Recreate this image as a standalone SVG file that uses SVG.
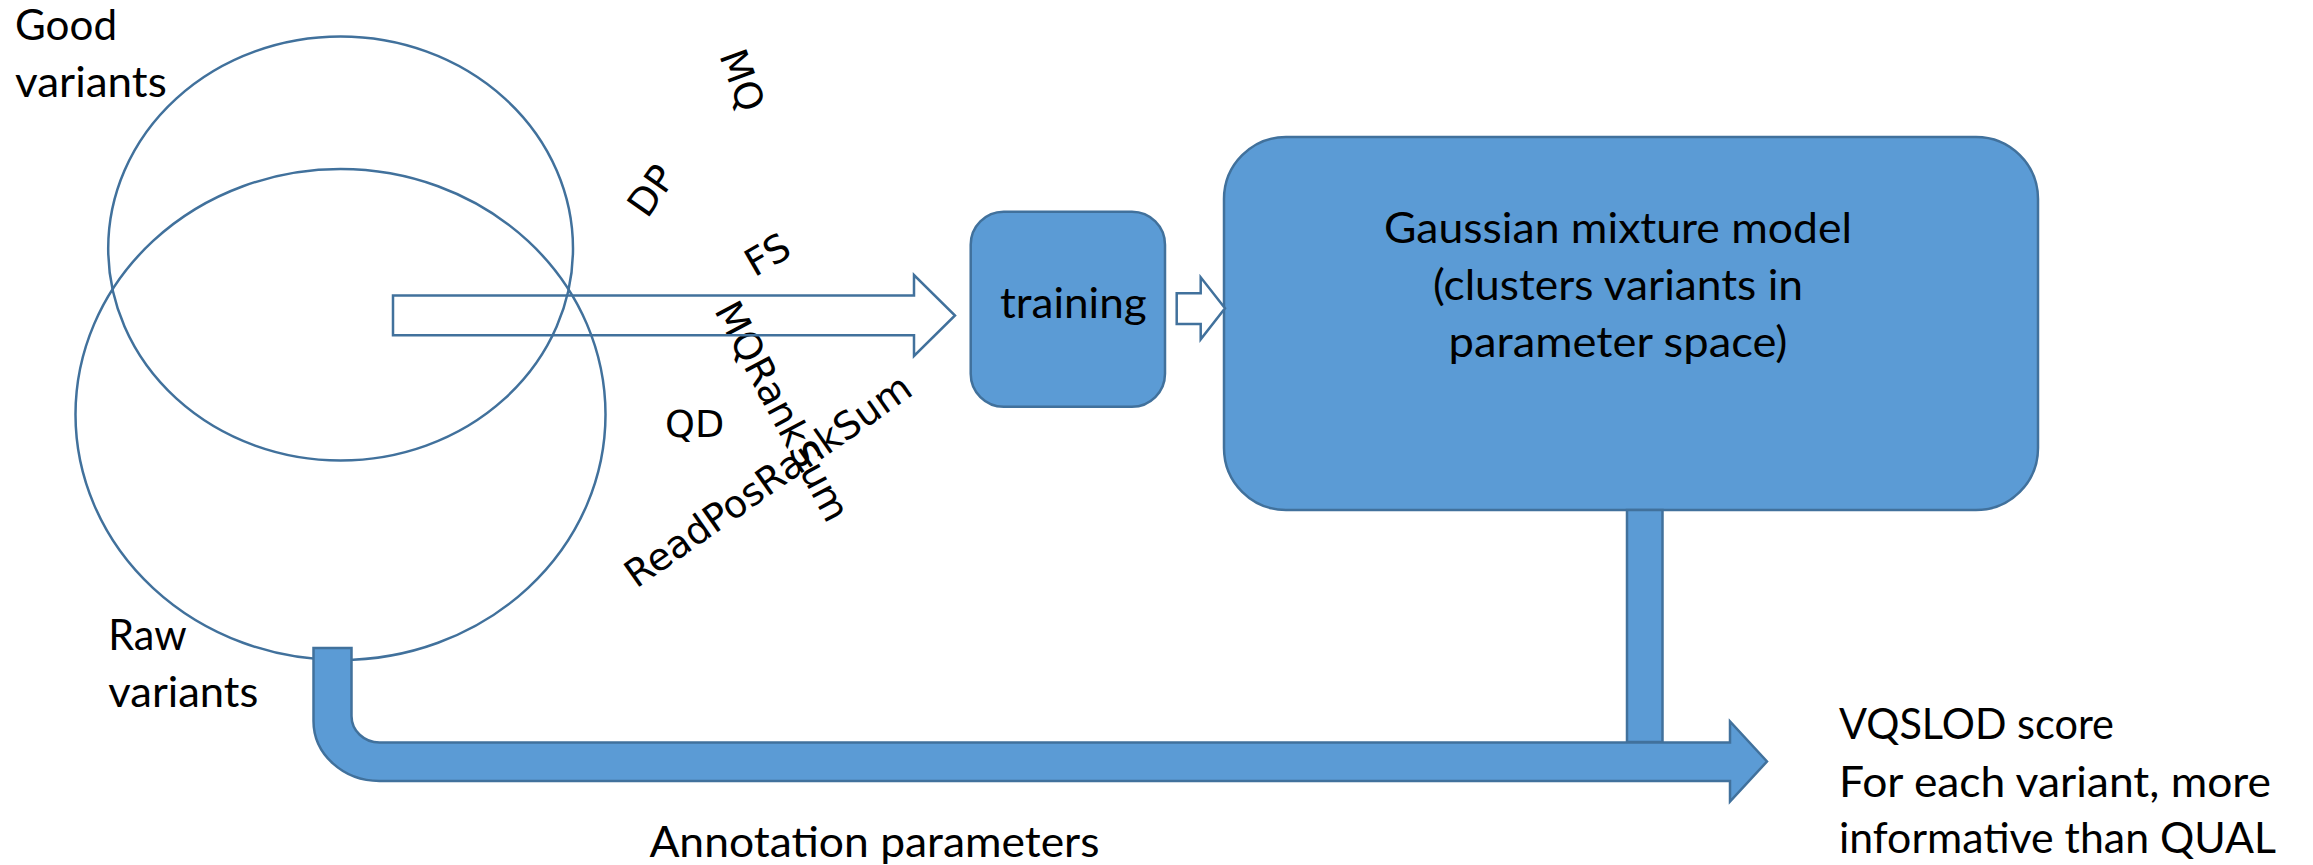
<svg xmlns="http://www.w3.org/2000/svg" width="2313" height="865" viewBox="0 0 2313 865">
<style>
.cal{font-family:Lato,"Liberation Sans",sans-serif;font-size:42px;fill:#000}
.dv{font-family:"DejaVu Sans",Verdana,sans-serif;font-size:38px;fill:#000}
.ol{fill:none;stroke:#41719C;stroke-width:2.5}
.hollow{fill:#fff;stroke:#41719C;stroke-width:2.5}
.solid{fill:#5B9BD5;stroke:#41719C;stroke-width:2.5}
</style>
<rect width="2313" height="865" fill="#fff"/>
<g id="raw-variants">
<ellipse class="ol" cx="340.5" cy="414.5" rx="265" ry="245.5"/>
<text class="cal" x="108.3" y="650" textLength="78.4" lengthAdjust="spacingAndGlyphs">Raw</text>
<text class="cal" x="108.3" y="706.7" textLength="150" lengthAdjust="spacingAndGlyphs">variants</text>
</g>
<g id="good-variants">
<ellipse class="ol" cx="340.6" cy="248.5" rx="232.4" ry="212"/>
<text class="cal" x="15" y="39.5" textLength="102" lengthAdjust="spacingAndGlyphs">Good</text>
<text class="cal" x="15" y="96.7" textLength="151.7" lengthAdjust="spacingAndGlyphs">variants</text>
</g>
<g id="parameters">
<g transform="translate(743,80) rotate(70)"><text class="dv" x="0" y="14" text-anchor="middle">MQ</text></g>
<g transform="translate(650.7,190) rotate(-55)"><text class="dv" x="0" y="14" text-anchor="middle">DP</text></g>
<g transform="translate(767,254) rotate(-30)"><text class="dv" x="0" y="14" text-anchor="middle">FS</text></g>
<g transform="translate(783,411) rotate(62)"><text class="dv" x="0" y="14" text-anchor="middle">MQRankSum</text></g>
<text class="dv" x="665" y="437">QD</text>
<g transform="translate(767.5,480) rotate(-35)"><text class="dv" x="0" y="14" text-anchor="middle">ReadPosRankSum</text></g>
</g>
<g id="training">
<rect class="solid" x="970.7" y="211.7" width="194.3" height="195" rx="33" ry="33"/>
<text class="cal" x="1000" y="318.3" textLength="146.7" lengthAdjust="spacingAndGlyphs">training</text>
</g>
<g id="gmm">
<rect class="solid" x="1224" y="137" width="814" height="373" rx="62" ry="62"/>
<text class="cal" x="1618" y="243.3" text-anchor="middle" textLength="468" lengthAdjust="spacingAndGlyphs">Gaussian mixture model</text>
<text class="cal" x="1618" y="300" text-anchor="middle" textLength="370" lengthAdjust="spacingAndGlyphs">(clusters variants in</text>
<text class="cal" x="1618" y="357" text-anchor="middle" textLength="339" lengthAdjust="spacingAndGlyphs">parameter space)</text>
</g>
<g id="output">
<text class="cal" x="1839" y="739" textLength="275" lengthAdjust="spacingAndGlyphs">VQSLOD score</text>
<text class="cal" x="1839" y="797" textLength="432" lengthAdjust="spacingAndGlyphs">For each variant, more</text>
<text class="cal" x="1839" y="853" textLength="437" lengthAdjust="spacingAndGlyphs">informative than QUAL</text>
</g>
<g id="connectors">
<polygon class="ol" points="393,295.5 914,295.5 914,275 955,315.5 914,356 914,335.3 393,335.3"/>
<polygon class="hollow" points="1176.7,293.3 1200.7,293.3 1200.7,277.3 1225,308.3 1200.7,339.3 1200.7,324 1176.7,324"/>
<rect class="solid" x="1627" y="510" width="35.5" height="232"/>
<path class="solid" d="M313.5 648 L351.5 648 L351.5 716 A28 26.5 0 0 0 379.5 742.5 L1730 742.5 L1730 721.5 L1767 761.5 L1730 801.5 L1730 781 L379.5 781 A66 60 0 0 1 313.5 721 Z"/>
<text class="cal" x="649.4" y="856.7" textLength="450" lengthAdjust="spacingAndGlyphs">Annotation parameters</text>
</g>
</svg>
